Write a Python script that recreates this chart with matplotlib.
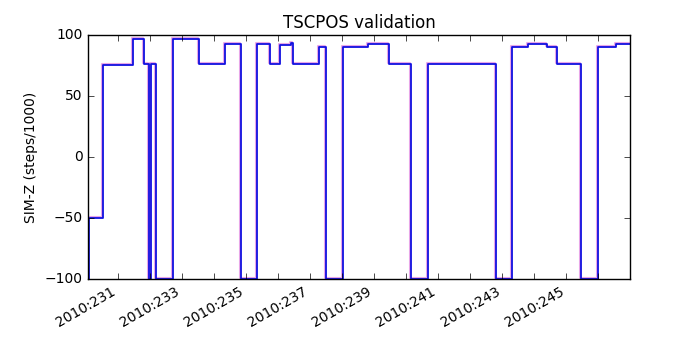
import numpy as np
import matplotlib
matplotlib.use('Agg')
import matplotlib.pyplot as plt
import matplotlib.transforms as mtransforms

plt.style.use('classic')

# SIM-Z step changes (day of year 2010, steps/1000)
day = [230.086, 230.118, 230.554, 231.499, 231.833, 231.988, 232.041, 232.207,
       232.746, 233.538, 234.358, 234.857, 235.356, 235.771, 236.073, 236.416,
       236.488, 237.299, 237.508, 238.047, 238.827, 239.481, 240.149, 240.679,
       242.808, 243.307, 243.797, 244.389, 244.720, 245.450, 245.998, 246.550,
       246.987]
simz = [-100, -50, 75.5, 96.7, 76, -100, 76, -100,
        96.7, 76, 92.6, -100, 92.6, 76, 91.8, 93.2,
        76, 89.9, -100, 89.9, 92.6, 76, -100, 76,
        -100, 89.9, 92.6, 89.9, 76, -100, 89.9, 92.6,
        92.6]
tick_days = list(range(231, 247))
tick_labels = ['2010:%03d' % d if d % 2 == 1 else '' for d in tick_days]

fig = plt.figure(figsize=(7, 3.5), dpi=100, facecolor='white')
ax = fig.add_axes([0.126, 0.203, 0.774, 0.697])

# reference (red, faint) drawn under the telemetry (blue), nudged by a pixel
shift = mtransforms.offset_copy(ax.transData, fig=fig, x=-1, y=1, units='dots')
ax.plot(day, simz, drawstyle='steps-post', color='m', lw=1.5, alpha=0.35, transform=shift)
ax.plot(day, simz, drawstyle='steps-post', color='#1010e0', lw=1.3)

ax.set_xlim(day[0], day[-1])
ax.set_ylim(-100, 100)
ax.set_yticks([-100, -50, 0, 50, 100])
ax.set_xticks(tick_days)
ax.set_xticklabels(tick_labels, rotation=30, ha='right')
ax.set_ylabel('SIM-Z (steps/1000)', fontsize=10)
ax.set_title('TSCPOS validation', fontsize=12)
ax.tick_params('both', labelsize=10)

fig.savefig('out.png', dpi=100, facecolor='white')
